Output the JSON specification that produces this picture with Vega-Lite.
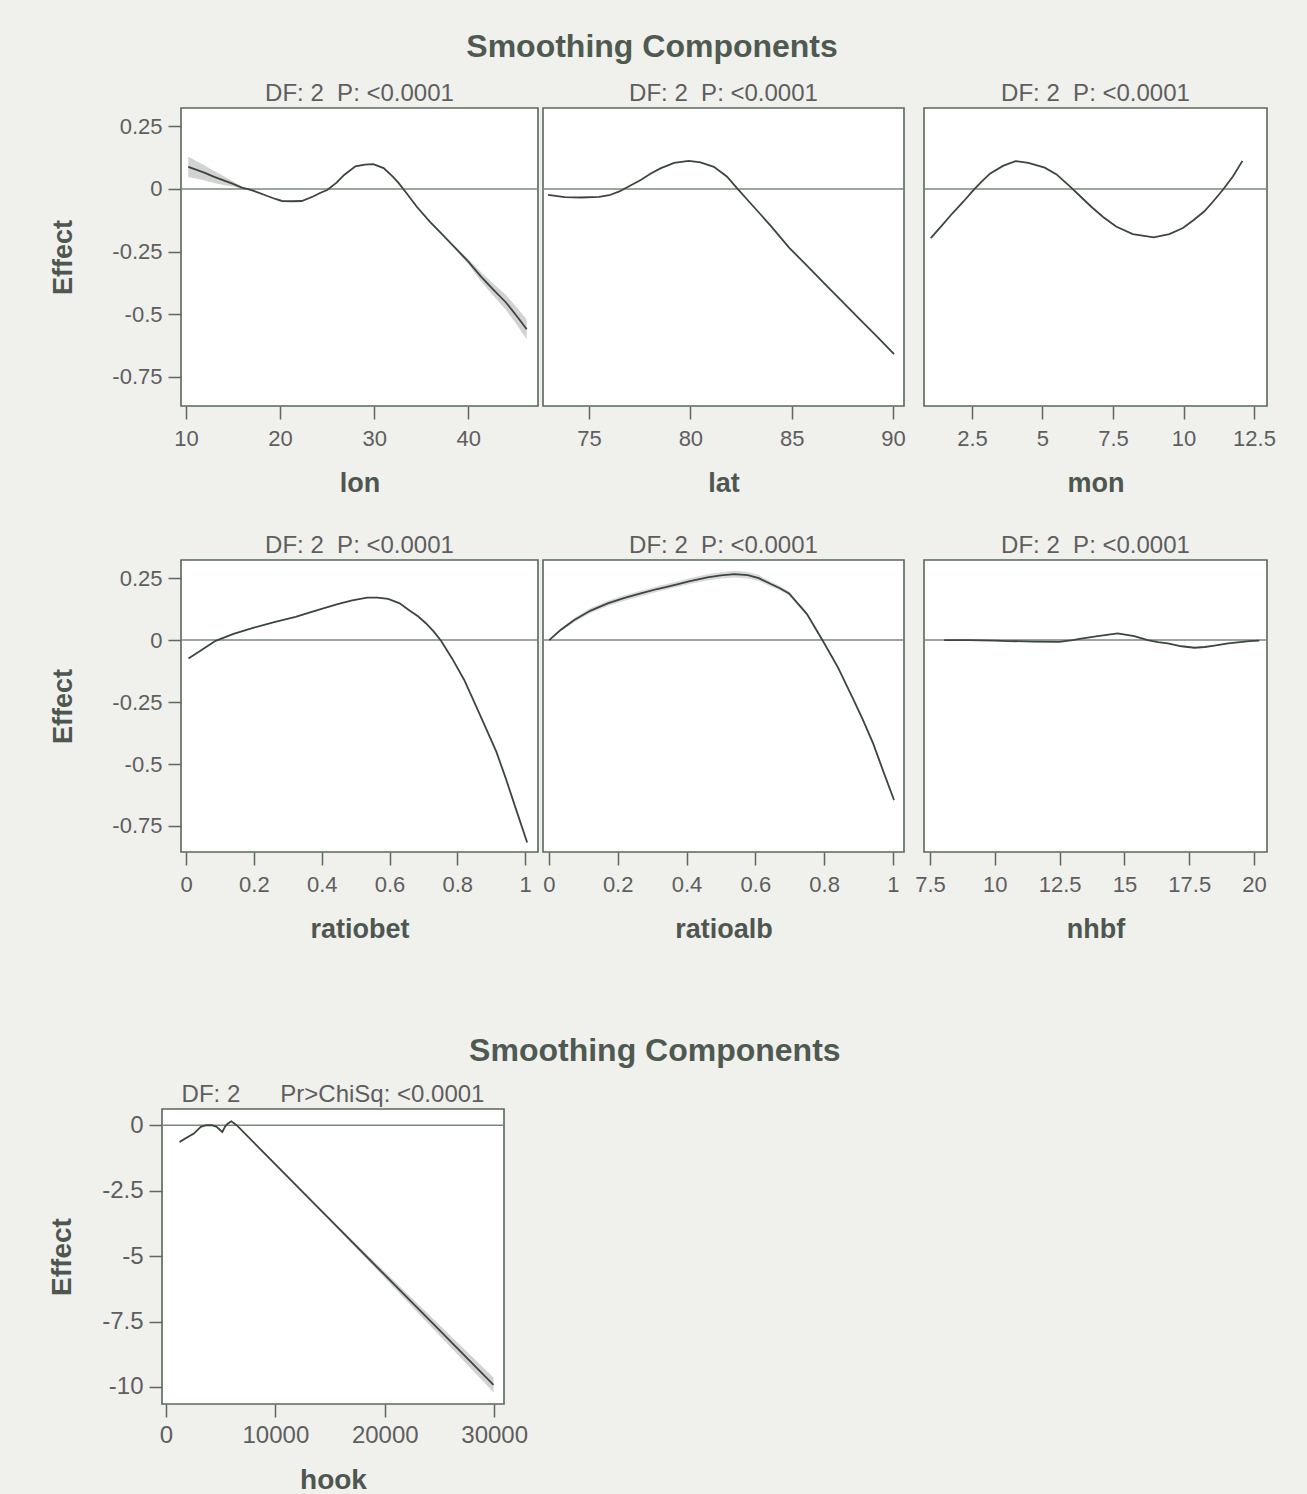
{
  "$schema": "https://vega.github.io/schema/vega-lite/v6.json",
  "background": "#f0f0ed",
  "padding": {"left": 47, "top": 31, "right": 40, "bottom": 8},
  "autosize": {"type": "pad"},
  "config": {
    "font": "Liberation Sans",
    "view": {"stroke": "#56685a", "strokeWidth": 1.6, "fill": "white"},
    "axis": {"domain": false, "grid": false, "tickColor": "#5a6a5d", "tickSize": 13, "tickWidth": 1.5,
      "labelColor": "#5e5e5e", "labelFontSize": 22, "labelFont": "Liberation Sans", "labelPadding": 9,
      "titleFontSize": 27, "titleColor": "#4e574f", "titleFont": "Liberation Sans", "titleFontWeight": "bold",
      "labelFlush": false, "labelOverlap": false},
    "axisY": {"labelPadding": 6, "titlePadding": 34, "titleFontSize": 27},
    "axisX": {"titlePadding": 21},
    "title": {"fontSize": 24, "fontWeight": "normal", "color": "#5e5e5e", "offset": 2, "font": "Liberation Sans"}
  },
  "datasets": {
    "lon": [
      {"x": 10.24, "y": 0.088, "lo": 0.048, "hi": 0.128},
      {"x": 11.0, "y": 0.078, "lo": 0.042, "hi": 0.114},
      {"x": 12.0, "y": 0.064, "lo": 0.034, "hi": 0.094},
      {"x": 13.0, "y": 0.048, "lo": 0.024, "hi": 0.072},
      {"x": 14.0, "y": 0.034, "lo": 0.016, "hi": 0.052},
      {"x": 15.0, "y": 0.020, "lo": 0.010, "hi": 0.030},
      {"x": 16.0, "y": 0.004, "lo": 0.0, "hi": 0.008},
      {"x": 16.5, "y": 0.0, "lo": -0.002, "hi": 0.002},
      {"x": 17.2, "y": -0.008, "lo": -0.010, "hi": -0.006},
      {"x": 18.5, "y": -0.026, "lo": -0.028, "hi": -0.024},
      {"x": 19.5, "y": -0.040, "lo": -0.042, "hi": -0.038},
      {"x": 20.2, "y": -0.048, "lo": -0.050, "hi": -0.046},
      {"x": 21.3, "y": -0.049, "lo": -0.051, "hi": -0.047},
      {"x": 22.3, "y": -0.048, "lo": -0.050, "hi": -0.046},
      {"x": 23.5, "y": -0.030, "lo": -0.032, "hi": -0.028},
      {"x": 24.3, "y": -0.015, "lo": -0.017, "hi": -0.013},
      {"x": 25.0, "y": -0.004, "lo": -0.006, "hi": -0.002},
      {"x": 26.0, "y": 0.025, "lo": 0.023, "hi": 0.027},
      {"x": 26.8, "y": 0.056, "lo": 0.054, "hi": 0.058},
      {"x": 28.0, "y": 0.090, "lo": 0.088, "hi": 0.092},
      {"x": 29.0, "y": 0.097, "lo": 0.095, "hi": 0.099},
      {"x": 29.9, "y": 0.099, "lo": 0.097, "hi": 0.101},
      {"x": 31.0, "y": 0.083, "lo": 0.081, "hi": 0.085},
      {"x": 32.0, "y": 0.048, "lo": 0.046, "hi": 0.050},
      {"x": 32.6, "y": 0.023, "lo": 0.021, "hi": 0.025},
      {"x": 33.5, "y": -0.020, "lo": -0.022, "hi": -0.018},
      {"x": 34.5, "y": -0.070, "lo": -0.072, "hi": -0.068},
      {"x": 35.9, "y": -0.130, "lo": -0.132, "hi": -0.128},
      {"x": 37.2, "y": -0.180, "lo": -0.182, "hi": -0.178},
      {"x": 38.6, "y": -0.235, "lo": -0.240, "hi": -0.230},
      {"x": 40.0, "y": -0.290, "lo": -0.300, "hi": -0.280},
      {"x": 41.3, "y": -0.348, "lo": -0.366, "hi": -0.330},
      {"x": 42.6, "y": -0.400, "lo": -0.424, "hi": -0.376},
      {"x": 44.0, "y": -0.453, "lo": -0.483, "hi": -0.423},
      {"x": 45.2, "y": -0.510, "lo": -0.545, "hi": -0.475},
      {"x": 46.2, "y": -0.560, "lo": -0.600, "hi": -0.520}
    ],
    "lat": [
      {"x": 72.98, "y": -0.024}, {"x": 73.8, "y": -0.033}, {"x": 74.6, "y": -0.034},
      {"x": 75.5, "y": -0.032}, {"x": 76.0, "y": -0.025}, {"x": 76.5, "y": -0.010},
      {"x": 77.0, "y": 0.012}, {"x": 77.55, "y": 0.036}, {"x": 78.05, "y": 0.062},
      {"x": 78.55, "y": 0.083}, {"x": 79.2, "y": 0.104}, {"x": 79.92, "y": 0.112},
      {"x": 80.5, "y": 0.106}, {"x": 81.16, "y": 0.088}, {"x": 81.8, "y": 0.050},
      {"x": 82.3, "y": 0.003}, {"x": 83.0, "y": -0.060}, {"x": 84.0, "y": -0.150},
      {"x": 84.87, "y": -0.234}, {"x": 85.8, "y": -0.310}, {"x": 86.74, "y": -0.388},
      {"x": 87.5, "y": -0.450}, {"x": 88.3, "y": -0.515}, {"x": 89.2, "y": -0.588},
      {"x": 90.05, "y": -0.659}
    ],
    "mon": [
      {"x": 1.04, "y": -0.196}, {"x": 1.4, "y": -0.150}, {"x": 1.81, "y": -0.097},
      {"x": 2.2, "y": -0.050}, {"x": 2.56, "y": -0.004}, {"x": 2.85, "y": 0.030},
      {"x": 3.15, "y": 0.062}, {"x": 3.6, "y": 0.092}, {"x": 4.04, "y": 0.111},
      {"x": 4.5, "y": 0.104}, {"x": 5.08, "y": 0.085}, {"x": 5.5, "y": 0.058},
      {"x": 5.98, "y": 0.009}, {"x": 6.35, "y": -0.030}, {"x": 6.72, "y": -0.070},
      {"x": 7.15, "y": -0.112}, {"x": 7.61, "y": -0.150}, {"x": 8.2, "y": -0.180},
      {"x": 8.94, "y": -0.193}, {"x": 9.5, "y": -0.180}, {"x": 9.98, "y": -0.156},
      {"x": 10.35, "y": -0.125}, {"x": 10.73, "y": -0.090}, {"x": 11.05, "y": -0.050},
      {"x": 11.39, "y": -0.004}, {"x": 11.75, "y": 0.050}, {"x": 12.09, "y": 0.112}
    ],
    "ratiobet": [
      {"x": 0.007, "y": -0.074}, {"x": 0.04, "y": -0.045}, {"x": 0.087, "y": -0.003},
      {"x": 0.14, "y": 0.025}, {"x": 0.2, "y": 0.050}, {"x": 0.26, "y": 0.072},
      {"x": 0.323, "y": 0.094}, {"x": 0.385, "y": 0.120}, {"x": 0.447, "y": 0.145},
      {"x": 0.49, "y": 0.160}, {"x": 0.534, "y": 0.171}, {"x": 0.565, "y": 0.171},
      {"x": 0.596, "y": 0.166}, {"x": 0.63, "y": 0.148}, {"x": 0.658, "y": 0.120},
      {"x": 0.685, "y": 0.095}, {"x": 0.708, "y": 0.067}, {"x": 0.73, "y": 0.035},
      {"x": 0.752, "y": -0.003}, {"x": 0.785, "y": -0.075}, {"x": 0.82, "y": -0.160},
      {"x": 0.85, "y": -0.250}, {"x": 0.882, "y": -0.348}, {"x": 0.915, "y": -0.450},
      {"x": 0.944, "y": -0.562}, {"x": 0.975, "y": -0.690}, {"x": 1.006, "y": -0.817}
    ],
    "ratioalb": [
      {"x": 0.001, "y": 0.0, "lo": -0.003, "hi": 0.003},
      {"x": 0.035, "y": 0.042, "lo": 0.036, "hi": 0.048},
      {"x": 0.074, "y": 0.081, "lo": 0.073, "hi": 0.089},
      {"x": 0.12, "y": 0.118, "lo": 0.108, "hi": 0.128},
      {"x": 0.171, "y": 0.148, "lo": 0.137, "hi": 0.159},
      {"x": 0.22, "y": 0.170, "lo": 0.159, "hi": 0.181},
      {"x": 0.267, "y": 0.188, "lo": 0.177, "hi": 0.199},
      {"x": 0.315, "y": 0.206, "lo": 0.195, "hi": 0.217},
      {"x": 0.364, "y": 0.222, "lo": 0.211, "hi": 0.233},
      {"x": 0.41, "y": 0.238, "lo": 0.226, "hi": 0.250},
      {"x": 0.461, "y": 0.253, "lo": 0.240, "hi": 0.266},
      {"x": 0.5, "y": 0.261, "lo": 0.248, "hi": 0.274},
      {"x": 0.539, "y": 0.266, "lo": 0.252, "hi": 0.280},
      {"x": 0.578, "y": 0.262, "lo": 0.248, "hi": 0.276},
      {"x": 0.61, "y": 0.250, "lo": 0.238, "hi": 0.262},
      {"x": 0.645, "y": 0.226, "lo": 0.216, "hi": 0.236},
      {"x": 0.67, "y": 0.210, "lo": 0.201, "hi": 0.219},
      {"x": 0.698, "y": 0.188, "lo": 0.180, "hi": 0.196},
      {"x": 0.75, "y": 0.105, "lo": 0.099, "hi": 0.111},
      {"x": 0.796, "y": -0.003, "lo": -0.008, "hi": 0.002},
      {"x": 0.84, "y": -0.110, "lo": -0.115, "hi": -0.105},
      {"x": 0.881, "y": -0.228, "lo": -0.233, "hi": -0.223},
      {"x": 0.912, "y": -0.320, "lo": -0.326, "hi": -0.314},
      {"x": 0.942, "y": -0.416, "lo": -0.423, "hi": -0.409},
      {"x": 0.972, "y": -0.530, "lo": -0.538, "hi": -0.522},
      {"x": 1.003, "y": -0.645, "lo": -0.655, "hi": -0.635}
    ],
    "nhbf": [
      {"x": 8.05, "y": 0.0}, {"x": 9.0, "y": 0.0}, {"x": 10.0, "y": -0.002},
      {"x": 10.5, "y": -0.004}, {"x": 11.5, "y": -0.006}, {"x": 12.49, "y": -0.007},
      {"x": 13.0, "y": 0.0}, {"x": 13.33, "y": 0.006}, {"x": 13.97, "y": 0.016},
      {"x": 14.74, "y": 0.027}, {"x": 15.38, "y": 0.016}, {"x": 15.9, "y": 0.0},
      {"x": 16.3, "y": -0.008}, {"x": 16.67, "y": -0.013}, {"x": 17.2, "y": -0.025},
      {"x": 17.7, "y": -0.031}, {"x": 18.1, "y": -0.028}, {"x": 18.47, "y": -0.022},
      {"x": 19.0, "y": -0.013}, {"x": 19.37, "y": -0.009}, {"x": 19.82, "y": -0.004},
      {"x": 20.2, "y": -0.002}
    ],
    "hook": [
      {"x": 1240, "y": -0.64, "lo": -0.70, "hi": -0.58},
      {"x": 1800, "y": -0.50, "lo": -0.54, "hi": -0.46},
      {"x": 2548, "y": -0.32, "lo": -0.35, "hi": -0.29},
      {"x": 3180, "y": -0.06, "lo": -0.08, "hi": -0.04},
      {"x": 3690, "y": 0.0, "lo": -0.02, "hi": 0.02},
      {"x": 4170, "y": 0.0, "lo": -0.02, "hi": 0.02},
      {"x": 4600, "y": -0.05, "lo": -0.07, "hi": -0.03},
      {"x": 5150, "y": -0.26, "lo": -0.29, "hi": -0.23},
      {"x": 5400, "y": -0.05, "lo": -0.07, "hi": -0.03},
      {"x": 5640, "y": 0.06, "lo": 0.04, "hi": 0.08},
      {"x": 5970, "y": 0.15, "lo": 0.13, "hi": 0.17},
      {"x": 6460, "y": 0.0, "lo": -0.02, "hi": 0.02},
      {"x": 10000, "y": -1.50, "lo": -1.53, "hi": -1.47},
      {"x": 15000, "y": -3.61, "lo": -3.66, "hi": -3.56},
      {"x": 20000, "y": -5.72, "lo": -5.84, "hi": -5.60},
      {"x": 25000, "y": -7.83, "lo": -8.03, "hi": -7.63},
      {"x": 29940, "y": -9.92, "lo": -10.20, "hi": -9.64}
    ]
  },
  "spacing": 92,
  "vconcat": [
    {
      "title": {"text": "Smoothing Components", "fontSize": 32, "fontWeight": "bold", "color": "#4e5a50",
        "anchor": "start", "align": "center", "dx": 603, "offset": 17, "frame": "bounds"},
      "columns": 5,
      "spacing": {"row": 154, "column": 5},
      "bounds": "flush",
      "concat": [
        {
          "width": 14, "height": 10,
          "data": {"values": [{"t": ""}]},
          "mark": {"type": "text"},
          "encoding": {"text": {"field": "t"}},
          "view": {"stroke": null, "fill": null}
        },
        {
          "width": 357, "height": 298,
          "title": "DF: 2\u00a0\u00a0P: <0.0001",
          "data": {"name": "lon"},
          "layer": [
            {"mark": {"type": "area", "color": "#d2d2d2"},
             "encoding": {
               "x": {"field": "x", "type": "quantitative", "title": "lon", "scale": {"domain": [9.47, 47.4], "nice": false, "zero": false}, "axis": {"values": [10, 20, 30, 40], "labelExpr": "'' + datum.value"}},
               "y": {"field": "lo", "type": "quantitative", "title": "Effect", "scale": {"domain": [-0.866, 0.323], "nice": false, "zero": false}, "axis": {"values": [0.25, 0, -0.25, -0.5, -0.75], "labelExpr": "'' + datum.value"}},
               "y2": {"field": "hi"}}},
            {"data": {"values": [{"v": 0}]},
             "mark": {"type": "rule", "color": "#7a897c", "strokeWidth": 1.5},
             "encoding": {"y": {"field": "v", "type": "quantitative", "title": "Effect", "scale": {"domain": [-0.866, 0.323], "nice": false, "zero": false}, "axis": {"values": [0.25, 0, -0.25, -0.5, -0.75], "labelExpr": "'' + datum.value"}}}},
            {"mark": {"type": "line", "color": "#3c463e", "strokeWidth": 1.8},
             "encoding": {
               "x": {"field": "x", "type": "quantitative", "title": "lon", "scale": {"domain": [9.47, 47.4], "nice": false, "zero": false}, "axis": {"values": [10, 20, 30, 40], "labelExpr": "'' + datum.value"}},
               "y": {"field": "y", "type": "quantitative", "title": "Effect", "scale": {"domain": [-0.866, 0.323], "nice": false, "zero": false}, "axis": {"values": [0.25, 0, -0.25, -0.5, -0.75], "labelExpr": "'' + datum.value"}}}}
          ]
        },
        {
          "width": 361, "height": 298,
          "title": "DF: 2\u00a0\u00a0P: <0.0001",
          "data": {"name": "lat"},
          "layer": [
            {"data": {"values": [{"v": 0}]},
             "mark": {"type": "rule", "color": "#7a897c", "strokeWidth": 1.5},
             "encoding": {"y": {"field": "v", "type": "quantitative", "scale": {"domain": [-0.866, 0.323], "nice": false, "zero": false}, "axis": null}}},
            {"mark": {"type": "line", "color": "#3c463e", "strokeWidth": 1.8},
             "encoding": {
               "x": {"field": "x", "type": "quantitative", "title": "lat", "scale": {"domain": [72.73, 90.54], "nice": false, "zero": false}, "axis": {"values": [75, 80, 85, 90], "labelExpr": "'' + datum.value"}},
               "y": {"field": "y", "type": "quantitative", "scale": {"domain": [-0.866, 0.323], "nice": false, "zero": false}, "axis": null}}}
          ]
        },
        {
          "width": 10, "height": 10,
          "data": {"values": [{"t": ""}]},
          "mark": {"type": "text"},
          "encoding": {"text": {"field": "t"}},
          "view": {"stroke": null, "fill": null}
        },
        {
          "width": 343, "height": 298,
          "title": "DF: 2\u00a0\u00a0P: <0.0001",
          "data": {"name": "mon"},
          "layer": [
            {"data": {"values": [{"v": 0}]},
             "mark": {"type": "rule", "color": "#7a897c", "strokeWidth": 1.5},
             "encoding": {"y": {"field": "v", "type": "quantitative", "scale": {"domain": [-0.866, 0.323], "nice": false, "zero": false}, "axis": null}}},
            {"mark": {"type": "line", "color": "#3c463e", "strokeWidth": 1.8},
             "encoding": {
               "x": {"field": "x", "type": "quantitative", "title": "mon", "scale": {"domain": [0.8, 12.96], "nice": false, "zero": false}, "axis": {"values": [2.5, 5, 7.5, 10, 12.5], "labelExpr": "'' + datum.value"}},
               "y": {"field": "y", "type": "quantitative", "scale": {"domain": [-0.866, 0.323], "nice": false, "zero": false}, "axis": null}}}
          ]
        },
        {
          "width": 14, "height": 10,
          "data": {"values": [{"t": ""}]},
          "mark": {"type": "text"},
          "encoding": {"text": {"field": "t"}},
          "view": {"stroke": null, "fill": null}
        },
        {
          "width": 357, "height": 292,
          "title": "DF: 2\u00a0\u00a0P: <0.0001",
          "data": {"name": "ratiobet"},
          "layer": [
            {"data": {"values": [{"v": 0}]},
             "mark": {"type": "rule", "color": "#7a897c", "strokeWidth": 1.5},
             "encoding": {"y": {"field": "v", "type": "quantitative", "title": "Effect", "scale": {"domain": [-0.855, 0.323], "nice": false, "zero": false}, "axis": {"values": [0.25, 0, -0.25, -0.5, -0.75], "labelExpr": "'' + datum.value"}}}},
            {"mark": {"type": "line", "color": "#3c463e", "strokeWidth": 1.8},
             "encoding": {
               "x": {"field": "x", "type": "quantitative", "title": "ratiobet", "scale": {"domain": [-0.015, 1.038], "nice": false, "zero": false}, "axis": {"values": [0, 0.2, 0.4, 0.6, 0.8, 1], "labelExpr": "'' + datum.value"}},
               "y": {"field": "y", "type": "quantitative", "title": "Effect", "scale": {"domain": [-0.855, 0.323], "nice": false, "zero": false}, "axis": {"values": [0.25, 0, -0.25, -0.5, -0.75], "labelExpr": "'' + datum.value"}}}}
          ]
        },
        {
          "width": 361, "height": 292,
          "title": "DF: 2\u00a0\u00a0P: <0.0001",
          "data": {"name": "ratioalb"},
          "layer": [
            {"mark": {"type": "area", "color": "#d9d9d9"},
             "encoding": {
               "x": {"field": "x", "type": "quantitative", "title": "ratioalb", "scale": {"domain": [-0.017, 1.032], "nice": false, "zero": false}, "axis": {"values": [0, 0.2, 0.4, 0.6, 0.8, 1], "labelExpr": "'' + datum.value"}},
               "y": {"field": "lo", "type": "quantitative", "scale": {"domain": [-0.855, 0.323], "nice": false, "zero": false}, "axis": null},
               "y2": {"field": "hi"}}},
            {"data": {"values": [{"v": 0}]},
             "mark": {"type": "rule", "color": "#7a897c", "strokeWidth": 1.5},
             "encoding": {"y": {"field": "v", "type": "quantitative", "scale": {"domain": [-0.855, 0.323], "nice": false, "zero": false}, "axis": null}}},
            {"mark": {"type": "line", "color": "#3c463e", "strokeWidth": 1.8},
             "encoding": {
               "x": {"field": "x", "type": "quantitative", "title": "ratioalb", "scale": {"domain": [-0.017, 1.032], "nice": false, "zero": false}, "axis": {"values": [0, 0.2, 0.4, 0.6, 0.8, 1], "labelExpr": "'' + datum.value"}},
               "y": {"field": "y", "type": "quantitative", "scale": {"domain": [-0.855, 0.323], "nice": false, "zero": false}, "axis": null}}}
          ]
        },
        {
          "width": 10, "height": 10,
          "data": {"values": [{"t": ""}]},
          "mark": {"type": "text"},
          "encoding": {"text": {"field": "t"}},
          "view": {"stroke": null, "fill": null}
        },
        {
          "width": 343, "height": 292,
          "title": "DF: 2\u00a0\u00a0P: <0.0001",
          "data": {"name": "nhbf"},
          "layer": [
            {"data": {"values": [{"v": 0}]},
             "mark": {"type": "rule", "color": "#7a897c", "strokeWidth": 1.5},
             "encoding": {"y": {"field": "v", "type": "quantitative", "scale": {"domain": [-0.855, 0.323], "nice": false, "zero": false}, "axis": null}}},
            {"mark": {"type": "line", "color": "#3c463e", "strokeWidth": 1.8},
             "encoding": {
               "x": {"field": "x", "type": "quantitative", "title": "nhbf", "scale": {"domain": [7.27, 20.5], "nice": false, "zero": false}, "axis": {"values": [7.5, 10, 12.5, 15, 17.5, 20], "labelExpr": "'' + datum.value"}},
               "y": {"field": "y", "type": "quantitative", "scale": {"domain": [-0.855, 0.323], "nice": false, "zero": false}, "axis": null}}}
          ]
        }
      ]
    },
    {
      "title": {"text": "Smoothing Components", "fontSize": 32, "fontWeight": "bold", "color": "#4e5a50",
        "anchor": "start", "align": "center", "dx": 607, "offset": 14, "frame": "bounds"},
      "vconcat": [
        {
          "width": 342, "height": 295,
          "title": {"text": "DF: 2\u00a0\u00a0\u00a0\u00a0\u00a0\u00a0Pr>ChiSq: <0.0001", "fontSize": 24, "offset": 2},
          "data": {"name": "hook"},
          "layer": [
            {"mark": {"type": "area", "color": "#d2d2d2"},
             "encoding": {
               "x": {"field": "x", "type": "quantitative", "title": "hook", "scale": {"domain": [-365, 30900], "nice": false, "zero": false}, "axis": {"values": [0, 10000, 20000, 30000], "labelExpr": "'' + datum.value", "labelFontSize": 24, "titleFontSize": 28, "labelPadding": 6, "titlePadding": 19}},
               "y": {"field": "lo", "type": "quantitative", "title": "Effect", "scale": {"domain": [-10.65, 0.62], "nice": false, "zero": false}, "axis": {"values": [0, -2.5, -5, -7.5, -10], "labelExpr": "'' + datum.value", "labelFontSize": 24, "titleFontSize": 28, "titlePadding": 25}},
               "y2": {"field": "hi"}}},
            {"data": {"values": [{"v": 0}]},
             "mark": {"type": "rule", "color": "#7a897c", "strokeWidth": 1.5},
             "encoding": {"y": {"field": "v", "type": "quantitative", "title": "Effect", "scale": {"domain": [-10.65, 0.62], "nice": false, "zero": false}, "axis": {"values": [0, -2.5, -5, -7.5, -10], "labelExpr": "'' + datum.value", "labelFontSize": 24, "titleFontSize": 28, "titlePadding": 25}}}},
            {"mark": {"type": "line", "color": "#3c463e", "strokeWidth": 1.8},
             "encoding": {
               "x": {"field": "x", "type": "quantitative", "title": "hook", "scale": {"domain": [-365, 30900], "nice": false, "zero": false}, "axis": {"values": [0, 10000, 20000, 30000], "labelExpr": "'' + datum.value", "labelFontSize": 24, "titleFontSize": 28, "labelPadding": 6, "titlePadding": 19}},
               "y": {"field": "y", "type": "quantitative", "title": "Effect", "scale": {"domain": [-10.65, 0.62], "nice": false, "zero": false}, "axis": {"values": [0, -2.5, -5, -7.5, -10], "labelExpr": "'' + datum.value", "labelFontSize": 24, "titleFontSize": 28, "titlePadding": 25}}}}
          ]
        }
      ]
    }
  ]
}
